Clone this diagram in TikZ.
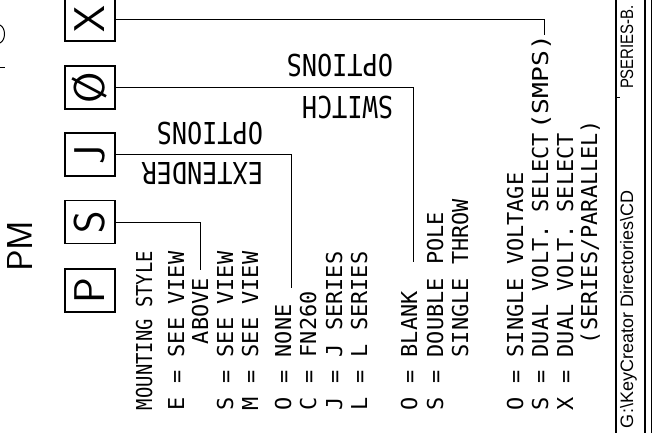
\documentclass[tikz,border=0pt]{standalone}
\usepackage{fontspec}
\newfontfamily\cadfont{DejaVu Sans Mono}
\newfontfamily\titlefont{Liberation Sans}
\begin{document}
\begin{tikzpicture}[x=1pt,y=-1pt,inner sep=0pt,outer sep=0pt,
  opt/.style={font=\cadfont\fontsize{21.9}{21.9}\selectfont, rotate=90, anchor=base west},
  hdr/.style={font=\cadfont\fontsize{25.2}{25.2}\selectfont, rotate=180, anchor=base west},
  keybox/.style={draw, line width=1.4pt, minimum width=50pt, minimum height=43pt},
  keylet/.style={font=\sffamily\fontsize{43}{43}\selectfont, rotate=90},
  conn/.style={line width=0.9pt},
  ttl/.style={font=\titlefont\fontsize{18}{18}\selectfont, rotate=90, anchor=base west}]
\useasboundingbox (0,0) rectangle (654,433);
\clip (0,0) rectangle (654,433);
\fill[white] (0,0) rectangle (654,433);

% marks at left edge
\draw[line width=1pt] (0,25) .. controls (6,28) and (6,40) .. (0,43);
\draw[line width=1pt] (0,68) -- (5,68);

% PM
\node[font=\sffamily\fontsize{36}{36}\selectfont, rotate=90, anchor=base west] (pm) at (32,272) {PM};

% key boxes
\node[keybox] (boxX) at (90,19.5) {};
\node[keylet] (letX) at (boxX.center) {X};
\node[keybox] (boxO) at (90,87.5) {};
\node[keylet] (letO) at (boxO.center) {Ø};
\node[keybox] (boxJ) at (90,154.5) {};
\node[keylet] (letJ) at (boxJ.center) {J};
\node[keybox] (boxS) at (90,222) {};
\node[keylet] (letS) at (boxS.center) {S};
\node[keybox] (boxP) at (90,290.5) {};
\node[keylet] (letP) at (boxP.center) {P};

% connectors
\coordinate (endX) at (544,35);
\coordinate (endO) at (413,262);
\coordinate (endJ) at (291,288);
\coordinate (endS) at (200,270);
\draw[conn] (boxX.east) -| (endX);
\draw[conn] (boxO.east) -| (endO);
\draw[conn] (boxJ.east) -| (endJ);
\draw[conn] (boxS.east) -| (endS);

% headers (upside down)
\node[hdr] (optA) at (393,55) {\scalebox{1}[1.2]{OPTIONS}};
\node[hdr] (swA) at (393,97) {\scalebox{1}[1.2]{SWITCH}};
\node[hdr] (optB) at (263,123) {\scalebox{1}[1.2]{OPTIONS}};
\node[hdr] (extB) at (263,163) {\scalebox{1}[1.2]{EXTENDER}};

% option columns
\node[opt] (t1) at (152,410) {\scalebox{0.86}[1]{MOUNTING STYLE}};
\node[opt] (t2) at (184,410) {E = SEE VIEW};
\node[opt] (t3) at (208,344) {ABOVE};
\node[opt] (t4) at (233,410) {S = SEE VIEW};
\node[opt] (t5) at (258,410) {M = SEE VIEW};
\node[opt] (t6) at (291,410) {O = NONE};
\node[opt] (t7) at (316,410) {C = FN260};
\node[opt] (t8) at (342,410) {J = J SERIES};
\node[opt] (t9) at (367,410) {L = L SERIES};
\node[opt] (t10) at (417,410) {O = BLANK};
\node[opt] (t11) at (443,410) {S = DOUBLE POLE};
\node[opt] (t12) at (468,357.2) {SINGLE THROW};
\node[opt] (t13) at (523,410) {O = SINGLE VOLTAGE};
\node[opt] (t14) at (548,410) {S = DUAL VOLT. SELECT};
\node[opt] (t14b) at (548,130) {\scalebox{1.2}[1]{(SMPS)}};
\node[opt] (t15) at (573,410) {X = DUAL VOLT. SELECT};
\node[opt] (t16) at (597,344) {(SERIES/PARALLEL)};

% title block
\draw[line width=1.2pt] (616,0) -- (616,433);
\draw[line width=2.5pt] (645,0) -- (645,433);
\draw[line width=0.8pt] (651,0) -- (651,433);
\draw[line width=0.8pt] (616,97) -- (620,97);
\node[ttl] (path) at (633,428) {G:\textbackslash KeyCreator Directories\textbackslash CD};
\node[ttl] (dwg) at (633,89) {\scalebox{0.83}[1]{PSERIES-B.}};
\end{tikzpicture}
\end{document}
